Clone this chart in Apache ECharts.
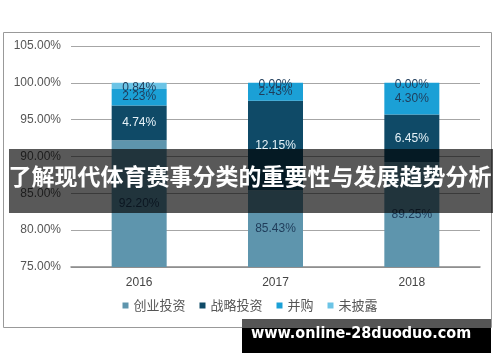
<!DOCTYPE html>
<html><head><meta charset="utf-8">
<script src="https://cdn.jsdelivr.net/npm/echarts@6/dist/echarts.min.js"></script>
<style>html,body{margin:0;padding:0;background:#fff}#c{width:500px;height:362px}</style>
</head><body><div id="c"></div>
<script>
var categories = ['2016', '2017', '2018'];
var seriesNames = ['创业投资', '战略投资', '并购', '未披露'];
var ventureData = [92.20, 85.43, 89.25];
var strategicData = [4.74, 12.15, 6.45];
var maData = [2.23, 2.43, 4.30];
var undisclosedData = [0.84, 0.00, 0.00];
var colors = ['#5e95ad', '#0f4a67', '#1ba0d6', '#6cc4e6'];
var labelColors = ['#1f3c5a', '#e6f2f8', '#1f3c5a', '#1f3c5a'];
var titleText = '了解现代体育赛事分类的重要性与发展趋势分析';
var watermarkText = 'www.online-28duoduo.com';

var dataSets = [ventureData, strategicData, maData, undisclosedData];
var chart = echarts.init(document.getElementById('c'));
var series = dataSets.map(function (d, i) {
  return {
    name: seriesNames[i], type: 'bar', stack: 'total', data: d,
    barWidth: 55,
    itemStyle: { color: colors[i] },
    label: {
      show: true, position: 'inside', color: labelColors[i],
      fontSize: 12, fontFamily: 'Liberation Sans, Arial, sans-serif',
      offset: i === 3 ? [0, 2] : [0, 0],
      formatter: function (p) { return p.value.toFixed(2) + '%'; }
    }
  };
});
chart.setOption({
  animation: false,
  grid: { left: 71, right: 20, top: 46, bottom: 95 },
  legend: {
    bottom: 45, left: 'center', itemWidth: 6, itemHeight: 6, itemGap: 14,
    icon: 'rect',
    textStyle: { color: '#555', fontSize: 13, fontFamily: 'Noto Sans CJK SC' },
    data: seriesNames
  },
  xAxis: {
    type: 'category', data: categories,
    axisLine: { lineStyle: { color: '#888', width: 1.5 } },
    axisTick: { show: false },
    axisLabel: { color: '#444', fontSize: 12, margin: 10, fontFamily: 'Liberation Sans, Arial, sans-serif' }
  },
  yAxis: {
    type: 'value', min: 75, max: 105, interval: 5,
    axisLine: { show: false }, axisTick: { show: false },
    splitLine: { lineStyle: { color: '#a6a6a6' } },
    axisLabel: { color: '#555', fontSize: 12, margin: 10, fontFamily: 'Liberation Sans, Arial, sans-serif',
      formatter: function (v) { return v.toFixed(2) + '%'; } }
  },
  series: series,
  graphic: [
    { type: 'rect', z: 0, silent: true, shape: { x: 3.5, y: 32.5, width: 488, height: 295 },
      style: { fill: 'none', stroke: '#999', lineWidth: 1 } },
    { type: 'rect', z: 100, shape: { x: 9, y: 149, width: 484, height: 64 },
      style: { fill: 'rgba(0,0,0,0.65)' } },
    { type: 'text', z: 101, left: 'center', top: 165,
      style: { text: titleText, fill: '#fff', font: 'bold 23px "Noto Sans CJK SC"' } },
    { type: 'rect', z: 100, shape: { x: 242, y: 319, width: 249, height: 34 },
      style: { fill: '#000' } },
    { type: 'rect', z: 100, shape: { x: 242, y: 319, width: 249, height: 9 },
      style: { fill: '#555' } },
    { type: 'text', z: 101, left: 251, top: 326,
      style: { text: watermarkText, fill: '#fff', font: 'bold 16px "DejaVu Sans Condensed", "DejaVu Sans"' } }
  ]
});
</script></body></html>
